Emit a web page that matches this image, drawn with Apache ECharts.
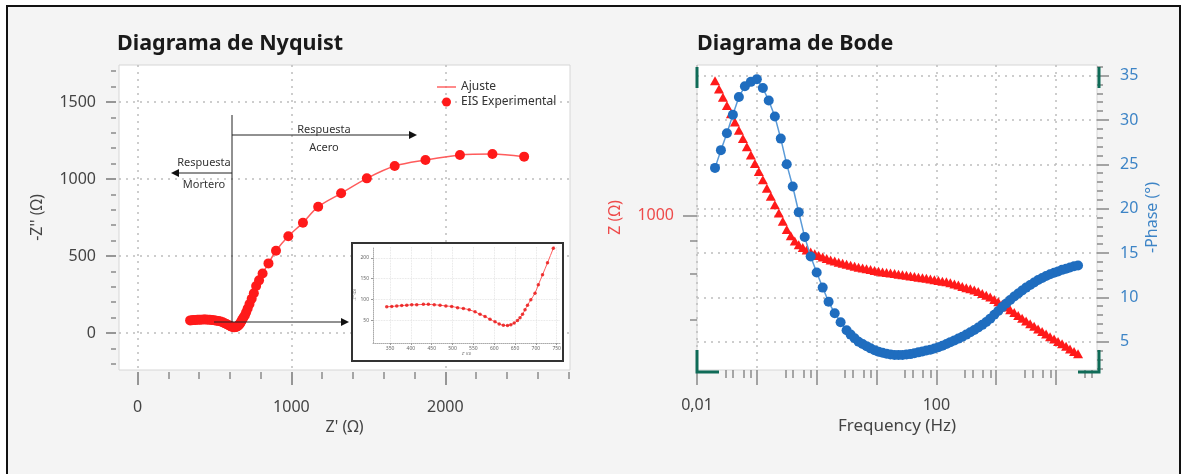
<!DOCTYPE html>
<html lang="es">
<head>
<meta charset="utf-8">
<title>Diagramas de Nyquist y Bode</title>
<script src="https://cdn.jsdelivr.net/npm/echarts@6.0.0/dist/echarts.min.js"></script>
<style>
  html, body { margin: 0; padding: 0; background: #fff; }
  #chart { width: 1188px; height: 474px; }
</style>
</head>
<body>
<div id="chart"></div>
<script>
// --- Nyquist: Z' (ohm) y -Z'' (ohm) ---
var nyqRe = [342,354,366,378,390,402,414,430,442,456,470,484,498,512,526,540,554,566,578,590,
             602,612,622,632,640,648,656,662,668,674,680,688,698,706,716,728,742,756,771,790,
             813,851,900,980,1075,1174,1323,1490,1671,1871,2095,2306,2512];
var nyqIm = [82,83,84,85,86,87,87,88,88,87,86,84,83,80,78,75,70,64,59,52,
             46,41,38,37,39,43,49,56,64,75,86,99,115,135,159,188,223,258,305,342,
             387,452,534,628,716,820,907,1004,1084,1123,1156,1162,1145];

// --- Bode: |Z| (ohm) ---
var freqZ = [0.02,0.0233,0.0271,0.0316,0.0369,0.043,0.0501,0.0585,0.0681,0.0794,
             0.0927,0.108,0.126,0.147,0.171,0.2,0.233,0.271,0.316,0.369,
             0.43,0.501,0.585,0.681,0.794,0.927,1.08,1.26,1.47,1.71,
             2,2.33,2.71,3.16,3.69,4.3,5.01,5.85,6.81,7.94,
             9.27,10.8,12.6,14.7,17.1,20,23.3,27.1,31.6,36.9,
             43,50.1,58.5,68.1,79.4,92.7,108,126,147,171,
             200,233,271,316,369,430,501,585,681,794,
             927,1080,1260,1470,1710,2000,2330,2710,3160,3690,
             4300,5010,5850,6810,7940,9270,10800,12600,14700,17100,
             20000,23300];
var zMod = [3290,3058,2844,2644,2458,2286,2125,1974,1837,1707,
            1586,1476,1372,1275,1186,1102,1024,953,885,838,
            800,774,755,739,726,715,704,694,686,677,
            670,664,658,652,646,640,635,630,626,622,
            617,613,609,606,603,600,597,594,591,588,
            585,581,579,576,572,568,565,561,558,554,
            548,543,536,530,525,519,512,504,496,488,
            478,468,458,447,436,426,415,405,395,386,
            377,368,360,352,344,337,330,323,316,309,
            302,296];

// --- Bode: -fase (grados) ---
var freqPhase = [0.02,0.0251,0.0316,0.0398,0.0501,0.0631,0.0794,0.1,0.126,0.158,
                 0.2,0.251,0.316,0.398,0.501,0.631,0.794,1,1.26,1.58,
                 2,2.51,3.16,
                 3.69,4.3,5.01,5.85,6.81,7.94,
                 9.27,10.8,12.6,14.7,17.1,20,23.3,27.1,31.6,36.9,
                 43,50.1,58.5,68.1,79.4,92.7,108,126,147,171,
                 200,233,271,316,369,430,501,585,681,794,
                 927,1080,1260,1470,1710,2000,2330,2710,3160,3690,
                 4300,5010,5850,6810,7940,9270,10800,12600,14700,17100,
                 20000,23300];
var phase = [24.6,26.6,28.5,30.6,32.6,33.8,34.3,34.6,33.6,32.2,
             30.4,27.9,25.0,22.5,19.6,16.8,14.6,12.8,11.1,9.5,
             8.2,7.2,6.3,
             5.8,5.4,5.0,4.75,4.5,4.25,
             4.05,3.88,3.75,3.65,3.57,3.5,3.5,3.5,3.55,3.6,
             3.7,3.8,3.9,4.0,4.1,4.23,4.38,4.55,4.75,4.95,
             5.15,5.35,5.55,5.8,6.07,6.33,6.6,6.9,7.22,7.6,
             8.03,8.47,8.9,9.3,9.7,10.1,10.43,10.77,11.1,11.4,
             11.68,11.95,12.18,12.4,12.6,12.77,12.93,13.1,13.23,13.37,
             13.5,13.6];

// --- marcas de los ejes ---
var nyqXTicks = [0, 1000, 2000];
var nyqXMinor = [200,400,600,800,1200,1400,1600,1800,2200,2400,2600,2800];
var nyqYTicks = [0, 500, 1000, 1500];
var nyqYMinor = [-200,-100,100,200,300,400,600,700,800,900,1100,1200,1300,1400,1600,1700];
var insetXTicks = [350,400,450,500,550,600,650,700,750];
var insetYTicks = [50,100,150,200];
var bodeXTicks = [0.01,0.1,1,10,100,1000,10000];
var bodeXLabels = [0.01, 100];
var bodeXMinor = [0.03,0.04,0.06,0.08,0.3,0.4,0.6,0.8,3,4,6,8,30,40,60,80,
                  300,400,600,800,3000,4000,6000,8000,30000,40000];
var zTicks = [1000];
var zMinor = [400, 600, 800];
var phaseTicks = [5,10,15,20,25,30,35];
var phaseMinor = [2,3,4,6,7,8,9,11,12,13,14,16,17,18,19,21,22,23,24,26,27,28,29,31,32,33,34,36];

var FONT = 'Noto Sans';
var RED = '#ff1a1a', BLUE = '#1f6dbf', GREEN = '#0f6b57';
var dotted = { type: [2, 5], color: '#bdbdbd', width: 1.5 };

var chart = echarts.init(document.getElementById('chart'));

var nyqPts = nyqRe.map(function (x, i) { return [x, nyqIm[i]]; });
var insetPts = nyqPts.filter(function (p) { return p[0] < 760; });
var zPts = freqZ.map(function (f, i) { return [f, zMod[i]]; });
var phPts = freqPhase.map(function (f, i) { return [f, phase[i]]; });

function lg(v) { return Math.log10(v); }
function fmtNum(v) { return String(+v.toPrecision(3)).replace('.', ','); }
function plain(v) { return String(v); }

// ejes que solo dibujan marcas secundarias
function minorAxis(grid, pos, min, max, vals, len, extra) {
    var a = {
        gridIndex: grid, type: 'value', position: pos, min: min, max: max,
        axisLine: { show: false, onZero: false },
        axisTick: { customValues: vals, length: len, lineStyle: { color: '#8a8a8a', width: 1.5 } },
        axisLabel: { show: false },
        splitLine: { show: false }
    };
    for (var k in extra) a[k] = extra[k];
    return a;
}

var zMin = 256.5, zMax = 3776, fMin = 0.01, fMax = 48300;

var option = {
    animation: false,
    backgroundColor: '#fff',
    textStyle: { fontFamily: FONT },
    title: [
        { text: 'Diagrama de Nyquist', left: 117, top: 33, padding: 0,
          textStyle: { fontSize: 21.5, fontWeight: 'bold', color: '#1a1a1a', fontFamily: FONT } },
        { text: 'Diagrama de Bode', left: 697, top: 33, padding: 0,
          textStyle: { fontSize: 21.5, fontWeight: 'bold', color: '#1a1a1a', fontFamily: FONT } }
    ],
    legend: {
        data: [{ name: 'Ajuste', icon: 'path://M0,0 H20 V1.5 H0 Z' }, { name: 'EIS Experimental', icon: 'circle' }],
        orient: 'vertical', left: 437, top: 81, itemGap: 3,
        itemWidth: 19, itemHeight: 9, padding: 0,
        textStyle: { fontSize: 12, color: '#333', fontFamily: FONT }
    },
    grid: [
        { left: 119, top: 65, width: 451, height: 305, show: true, backgroundColor: '#fff', borderColor: '#d6d6d6', borderWidth: 1 },
        { left: 373, top: 247, width: 187, height: 96, show: false },
        { left: 697, top: 65, width: 400, height: 305, show: true, backgroundColor: '#fff', borderColor: '#d6d6d6', borderWidth: 1 }
    ],
    xAxis: [
        { gridIndex: 0, type: 'value', position: 'bottom', min: -120, max: 2810, offset: 2,
          axisLine: { show: false, onZero: false },
          axisTick: { customValues: nyqXTicks, length: 13, lineStyle: { color: '#777', width: 1.5 } },
          axisLabel: { customValues: nyqXTicks, margin: 27, fontSize: 16, color: '#444', fontFamily: FONT, formatter: plain },
          splitLine: { show: true, lineStyle: dotted },
          name: "Z' (Ω)", nameLocation: 'middle', nameGap: 47,
          nameTextStyle: { fontSize: 16, color: '#444', fontFamily: FONT } },
        minorAxis(0, 'bottom', -120, 2810, nyqXMinor, 7, { offset: 2 }),
        { gridIndex: 1, type: 'value', position: 'bottom', min: 309, max: 758, z: 5,
          axisLine: { show: true, onZero: false, lineStyle: { color: '#aaa', type: 'dotted' } },
          axisTick: { customValues: insetXTicks, length: 2, lineStyle: { color: '#999' } },
          axisLabel: { customValues: insetXTicks, margin: 3, fontSize: 5, color: '#666', formatter: plain },
          splitLine: { show: true, lineStyle: { type: 'dotted', color: '#ddd', width: 0.8 } },
          name: "Z' (Ω)", nameLocation: 'middle', nameGap: 9, nameTextStyle: { fontSize: 4, color: '#666' } },
        { gridIndex: 2, type: 'log', min: fMin, max: fMax, show: false },
        { gridIndex: 2, type: 'value', position: 'bottom', min: lg(fMin), max: lg(fMax),
          axisLine: { show: false, onZero: false },
          axisTick: { customValues: bodeXTicks.map(lg), length: 15, lineStyle: { color: '#888', width: 1.5 } },
          axisLabel: { customValues: bodeXLabels.map(lg), margin: 27, fontSize: 16, color: '#444', fontFamily: FONT,
                       formatter: function (v) { return fmtNum(Math.pow(10, v)); } },
          splitLine: { show: true, lineStyle: dotted },
          name: 'Frequency (Hz)', nameLocation: 'middle', nameGap: 44,
          nameTextStyle: { fontSize: 17, color: '#444', fontFamily: FONT } },
        minorAxis(2, 'bottom', lg(fMin), lg(fMax), bodeXMinor.map(lg), 8, {})
    ],
    yAxis: [
        { gridIndex: 0, type: 'value', position: 'left', min: -240, max: 1740, offset: 3,
          axisLine: { show: false, onZero: false },
          axisTick: { customValues: nyqYTicks, length: 10, lineStyle: { color: '#777', width: 1.5 } },
          axisLabel: { customValues: nyqYTicks, margin: 20, fontSize: 16, color: '#444', fontFamily: FONT, formatter: plain },
          splitLine: { show: true, lineStyle: dotted },
          name: "-Z'' (Ω)", nameLocation: 'middle', nameGap: 71, nameRotate: 90,
          nameTextStyle: { fontSize: 16, color: '#444', fontFamily: FONT } },
        minorAxis(0, 'left', -240, 1740, nyqYMinor, 5, { offset: 3 }),
        { gridIndex: 1, type: 'value', position: 'left', min: -5, max: 226, z: 5,
          axisLine: { show: true, onZero: false, lineStyle: { color: '#aaa', type: 'dotted' } },
          axisTick: { customValues: insetYTicks, length: 2, lineStyle: { color: '#999' } },
          axisLabel: { customValues: insetYTicks, margin: 4, fontSize: 5, color: '#666', formatter: plain },
          splitLine: { show: true, lineStyle: { type: 'dotted', color: '#ddd', width: 0.8 } },
          name: "-Z'' (Ω)", nameLocation: 'middle', nameGap: 12, nameRotate: 90, nameTextStyle: { fontSize: 4, color: '#666' } },
        { gridIndex: 2, type: 'log', min: zMin, max: zMax, show: false },
        { gridIndex: 2, type: 'value', position: 'left', min: lg(zMin), max: lg(zMax),
          axisLine: { show: false, onZero: false },
          axisTick: { customValues: zTicks.map(lg), length: 14, lineStyle: { color: '#888', width: 1.5 } },
          axisLabel: { customValues: zTicks.map(lg), margin: 23, fontSize: 16, color: '#ee4b4b', fontFamily: FONT,
                       formatter: function (v) { return String(Math.round(Math.pow(10, v))); } },
          splitLine: { show: true, lineStyle: dotted },
          name: 'Z (Ω)', nameLocation: 'middle', nameGap: 74, nameRotate: 90,
          nameTextStyle: { fontSize: 16, color: '#ee4b4b', fontFamily: FONT } },
        minorAxis(2, 'left', lg(zMin), lg(zMax), zMinor.map(lg), 7, {}),
        { gridIndex: 2, type: 'value', position: 'right', min: 1.81, max: 36.2,
          axisLine: { show: false, onZero: false },
          axisTick: { customValues: phaseTicks, length: 12, lineStyle: { color: '#888', width: 1.5 } },
          axisLabel: { customValues: phaseTicks, margin: 23, fontSize: 16, color: '#3d84c6', fontFamily: FONT },
          splitLine: { show: true, lineStyle: dotted },
          name: '-Phase (°)', nameLocation: 'middle', nameGap: 47, nameRotate: 90,
          nameTextStyle: { fontSize: 16, color: '#3d84c6', fontFamily: FONT } },
        minorAxis(2, 'right', 1.81, 36.2, phaseMinor, 6, {})
    ],
    series: [
        { name: 'Ajuste', type: 'line', xAxisIndex: 0, yAxisIndex: 0, data: nyqPts,
          smooth: 0.3, symbol: 'none', lineStyle: { color: '#ff5c5c', width: 1.5 },
          itemStyle: { color: '#ff5c5c' }, z: 2 },
        { name: 'EIS Experimental', type: 'scatter', xAxisIndex: 0, yAxisIndex: 0, data: nyqPts,
          symbolSize: 10, itemStyle: { color: RED, opacity: 1 }, z: 3 },
        { name: 'inset-ajuste', type: 'line', xAxisIndex: 2, yAxisIndex: 2, data: insetPts,
          smooth: 0.3, symbol: 'none', lineStyle: { color: '#ff5c5c', width: 1 }, z: 6 },
        { name: 'inset-exp', type: 'scatter', xAxisIndex: 2, yAxisIndex: 2, data: insetPts,
          symbolSize: 3.5, itemStyle: { color: '#e81010' }, z: 7 },
        { name: 'Z', type: 'scatter', xAxisIndex: 3, yAxisIndex: 3, data: zPts,
          symbol: 'triangle', symbolSize: [10, 9], itemStyle: { color: RED, opacity: 1 }, z: 2 },
        { name: 'Fase', type: 'line', xAxisIndex: 3, yAxisIndex: 6, data: phPts,
          symbol: 'circle', symbolSize: 10, showSymbol: true, showAllSymbol: true,
          lineStyle: { color: '#5b9bd8', width: 1.5 }, itemStyle: { color: BLUE }, z: 3 }
    ],
    graphic: [
        // marco exterior
        { type: 'rect', z: -10, shape: { x: 7, y: 6, width: 1173, height: 480 },
          style: { fill: '#f4f4f4', stroke: '#111', lineWidth: 2 } },
        // recuadro del detalle
        { type: 'rect', z: 4, shape: { x: 352, y: 243, width: 211, height: 118 },
          style: { fill: '#fff', stroke: '#333', lineWidth: 2 } },
        // flechas y notas
        { type: 'line', z: 10, shape: { x1: 232, y1: 115, x2: 232, y2: 322 }, style: { stroke: '#222', lineWidth: 1 } },
        { type: 'line', z: 10, shape: { x1: 232, y1: 135, x2: 410, y2: 135 }, style: { stroke: '#222', lineWidth: 1 } },
        { type: 'polygon', z: 10, shape: { points: [[409, 131], [417, 135], [409, 139]] }, style: { fill: '#111' } },
        { type: 'line', z: 10, shape: { x1: 232, y1: 173, x2: 178, y2: 173 }, style: { stroke: '#222', lineWidth: 1 } },
        { type: 'polygon', z: 10, shape: { points: [[179, 169], [171, 173], [179, 177]] }, style: { fill: '#111' } },
        { type: 'line', z: 10, shape: { x1: 214, y1: 322, x2: 342, y2: 322 }, style: { stroke: '#222', lineWidth: 1 } },
        { type: 'polygon', z: 10, shape: { points: [[341, 318], [349, 322], [341, 326]] }, style: { fill: '#111' } },
        { type: 'text', z: 10, style: { text: 'Respuesta', x: 324, y: 130, textAlign: 'center', textVerticalAlign: 'middle', fontSize: 11, fontFamily: FONT, fill: '#333' } },
        { type: 'text', z: 10, style: { text: 'Acero', x: 324, y: 148, textAlign: 'center', textVerticalAlign: 'middle', fontSize: 11, fontFamily: FONT, fill: '#333' } },
        { type: 'text', z: 10, style: { text: 'Respuesta', x: 204, y: 163, textAlign: 'center', textVerticalAlign: 'middle', fontSize: 11, fontFamily: FONT, fill: '#333' } },
        { type: 'text', z: 10, style: { text: 'Mortero', x: 204, y: 185, textAlign: 'center', textVerticalAlign: 'middle', fontSize: 11, fontFamily: FONT, fill: '#333' } },
        // corchetes verdes del Bode
        { type: 'line', z: 10, shape: { x1: 697, y1: 67, x2: 697, y2: 88 }, style: { stroke: GREEN, lineWidth: 3 } },
        { type: 'polyline', z: 10, shape: { points: [[697, 350], [697, 372], [719, 372]] }, style: { stroke: GREEN, lineWidth: 3, fill: null } },
        { type: 'line', z: 10, shape: { x1: 1099, y1: 67, x2: 1099, y2: 88 }, style: { stroke: GREEN, lineWidth: 3 } },
        { type: 'polyline', z: 10, shape: { points: [[1099, 350], [1099, 372], [1078, 372]] }, style: { stroke: GREEN, lineWidth: 3, fill: null } }
    ]
};

chart.setOption(option);
</script>
</body>
</html>
